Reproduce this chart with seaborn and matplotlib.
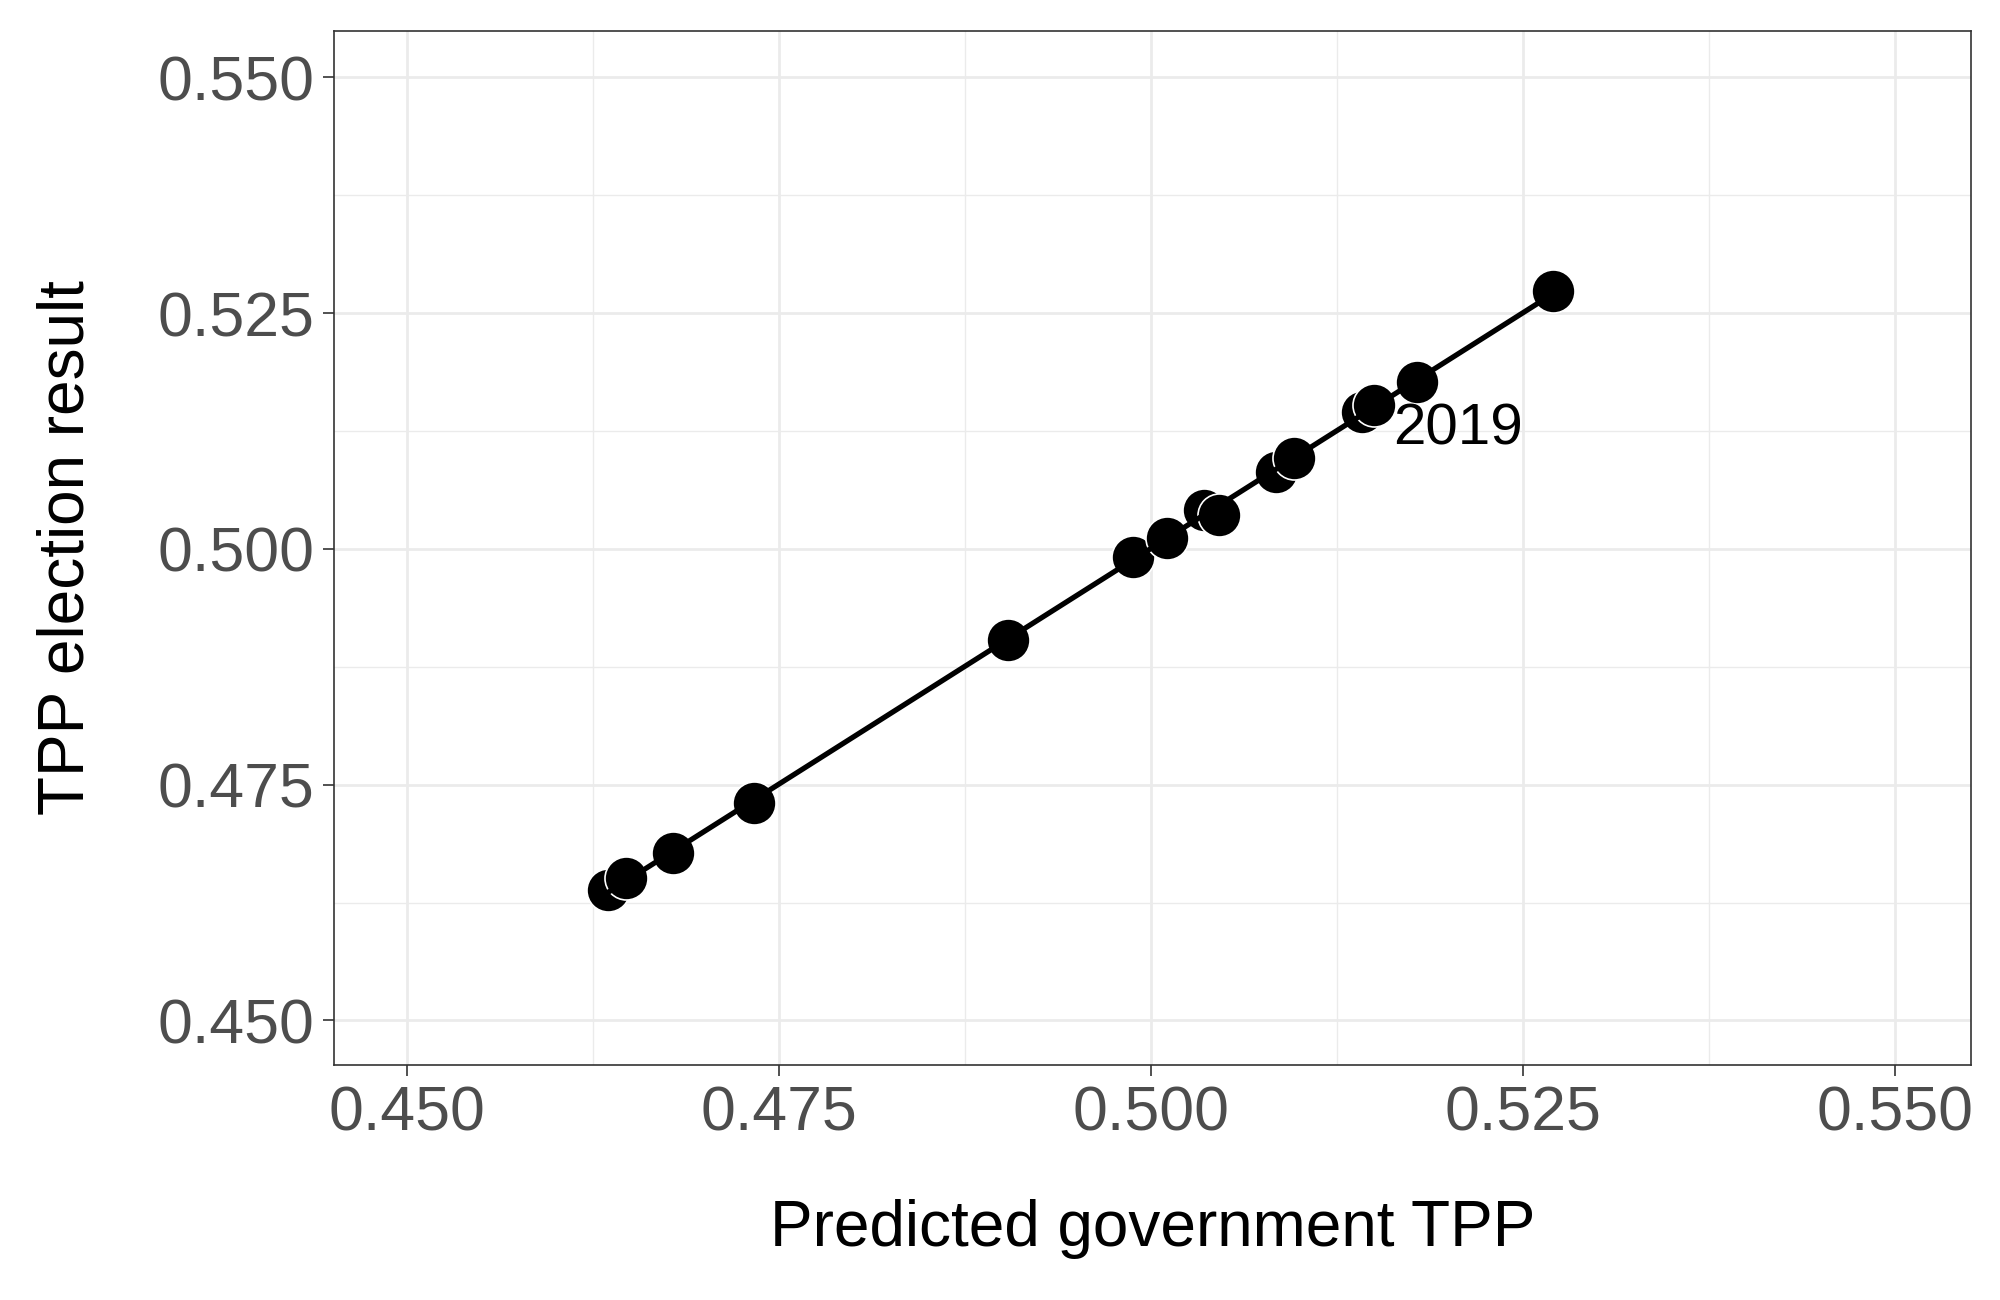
import matplotlib
matplotlib.use("Agg")
import matplotlib.pyplot as plt
import seaborn as sns
import pandas as pd
import numpy as np

predicted = [0.4635, 0.4647, 0.4679, 0.4733, 0.4904, 0.4988, 0.5011, 0.5036,
             0.5046, 0.5084, 0.5096, 0.5142, 0.5150, 0.5179, 0.5270]
result = [0.4638, 0.4651, 0.4678, 0.4730, 0.4903, 0.4991, 0.5012, 0.5041,
          0.5036, 0.5082, 0.5096, 0.5145, 0.5153, 0.5177, 0.5273]
label_text = "2019"
label_x = 0.5163
label_y = 0.5127
ticks = [0.450, 0.475, 0.500, 0.525, 0.550]
tick_labels = ["0.450", "0.475", "0.500", "0.525", "0.550"]
minor_ticks = [0.4625, 0.4875, 0.5125, 0.5375]

df = pd.DataFrame({"predicted": predicted, "result": result})

sns.set_theme(style="white")
plt.rcParams['font.family'] = ['Liberation Sans', 'DejaVu Sans']

fig = plt.figure(figsize=(10, 6.5), dpi=200)
ax = fig.add_axes([0.167, 0.181, 0.8183, 0.795])

sns.scatterplot(data=df, x="predicted", y="result", ax=ax, s=240,
                color="black", edgecolor="white", linewidth=0.6, zorder=3)
sns.regplot(data=df, x="predicted", y="result", ax=ax, scatter=False, ci=None,
            truncate=True, line_kws={"color": "black", "lw": 1.9, "zorder": 4})

ax.text(label_x, label_y, label_text, ha="left", va="center", fontsize=21, color="black")

ax.set_xlim(0.4451, 0.5551)
ax.set_ylim(0.4453, 0.5549)
ax.set_xticks(ticks)
ax.set_xticklabels(tick_labels)
ax.set_yticks(ticks)
ax.set_yticklabels(tick_labels)
ax.set_xticks(minor_ticks, minor=True)
ax.set_yticks(minor_ticks, minor=True)
ax.grid(True, which="major", color="#EBEBEB", lw=1.0, zorder=0)
ax.grid(True, which="minor", color="#EBEBEB", lw=0.5, zorder=0)
ax.set_axisbelow(True)
ax.tick_params(axis="both", which="major", labelsize=22.5, labelcolor="#4D4D4D",
               color="#333333", length=4, width=0.6, direction="out",
               bottom=True, left=True, pad=3)
ax.tick_params(axis="both", which="minor", length=0)
for sp in ax.spines.values():
    sp.set_color("#333333")
    sp.set_linewidth(0.6)

ax.set_xlabel("Predicted government TPP", fontsize=23, color="black", labelpad=20)
ax.set_ylabel("TPP election result", fontsize=23, color="black", labelpad=22)

fig.savefig("out.png", dpi=200, facecolor="white")
